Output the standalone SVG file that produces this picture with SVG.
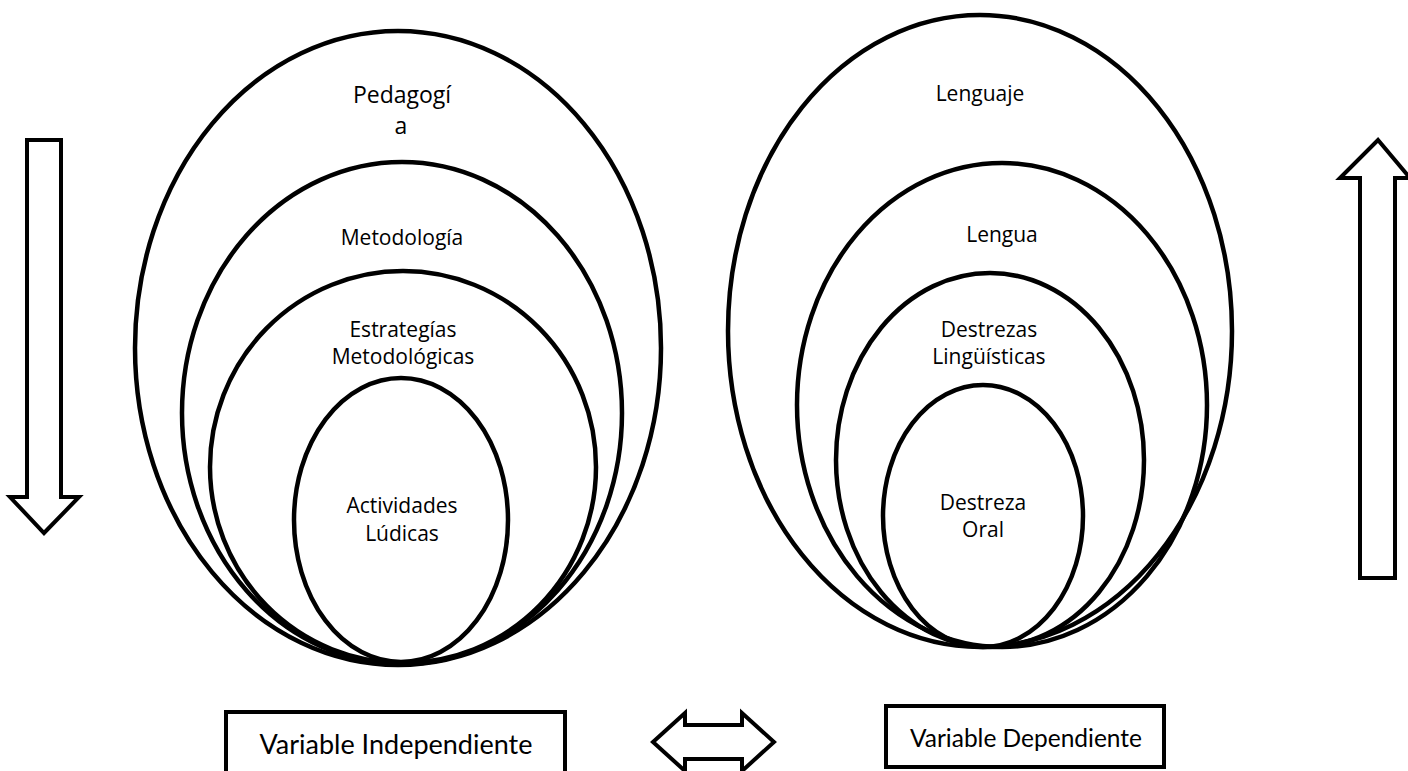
<svg xmlns="http://www.w3.org/2000/svg" width="1408" height="771" viewBox="0 0 1408 771">
<style>
.ring{fill:none;stroke:#000;stroke-width:4.5}
.lbl{font-family:"Open Sans","DejaVu Sans",sans-serif;font-size:21px;fill:#000;text-anchor:middle}
.big{font-size:23px}
.box{fill:#fff;stroke:#000;stroke-width:4}
.btxt{font-family:Lato,"Open Sans",sans-serif;font-size:27px;fill:#000;text-anchor:middle}
.arr{fill:#fff;stroke:#000;stroke-width:4;stroke-linejoin:miter}
</style>
<rect width="1408" height="771" fill="#fff"/>
<g id="pedagogia">
<ellipse class="ring" cx="398" cy="348" rx="263" ry="317"/>
<text class="lbl big" x="402" y="103">Pedagogí</text>
<text class="lbl big" x="401" y="134">a</text>
</g>
<g id="metodologia">
<ellipse class="ring" cx="402" cy="413" rx="220" ry="251"/>
<text class="lbl" x="402" y="245">Metodología</text>
</g>
<g id="estrategias">
<ellipse class="ring" cx="403" cy="467" rx="193" ry="196"/>
<text class="lbl" x="403" y="337">Estrategías</text>
<text class="lbl" x="403" y="364">Metodológicas</text>
</g>
<g id="actividades">
<ellipse class="ring" cx="401" cy="520" rx="107" ry="142"/>
<text class="lbl" x="402" y="513">Actividades</text>
<text class="lbl" x="402" y="541">Lúdicas</text>
</g>
<g id="lenguaje">
<ellipse class="ring" cx="980" cy="331" rx="252" ry="316"/>
<text class="lbl" x="980" y="101">Lenguaje</text>
</g>
<g id="lengua">
<ellipse class="ring" cx="1002" cy="405" rx="205" ry="242"/>
<text class="lbl" x="1002" y="242">Lengua</text>
</g>
<g id="destrezas-linguisticas">
<ellipse class="ring" cx="990" cy="460" rx="154" ry="187"/>
<text class="lbl" x="989" y="337">Destrezas</text>
<text class="lbl" x="989" y="364">Lingüísticas</text>
</g>
<g id="destreza-oral">
<ellipse class="ring" cx="983" cy="516" rx="100" ry="131"/>
<text class="lbl" x="983" y="510">Destreza</text>
<text class="lbl" x="983" y="537">Oral</text>
</g>
<g id="variable-independiente">
<rect class="box" x="226" y="712" width="339" height="80"/>
<text class="btxt" x="396" y="754">Variable Independiente</text>
</g>
<g id="variable-dependiente">
<rect class="box" x="886" y="706" width="278" height="61"/>
<text class="btxt" x="1026" y="747" style="font-size:24.5px">Variable Dependiente</text>
</g>
<g id="connectors">
<path class="arr" d="M27,140 H61 V497 H79 L44,533 L10,497 H27 Z"/>
<path class="arr" d="M1360,578 V178 H1340 L1378,140 L1410,178 H1395 V578 Z"/>
<path class="arr" d="M653,742 L685,713 V725 H742 V713 L774,742 L742,771 V759 H685 V771 Z"/>
</g>
</svg>
